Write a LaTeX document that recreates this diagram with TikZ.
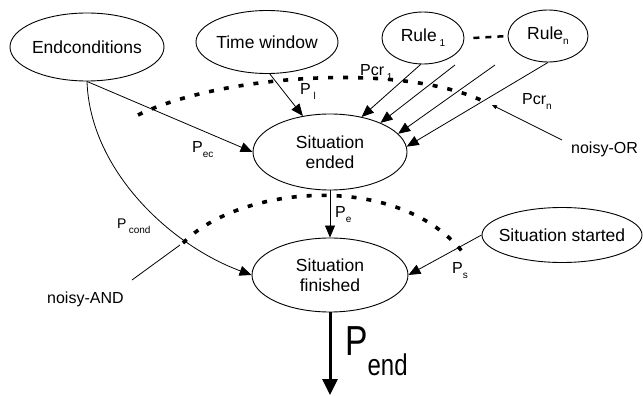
\documentclass[tikz,border=0pt]{standalone}
\usepackage{fontspec}
\usepackage{graphicx}
\setmainfont{Liberation Sans}
\usetikzlibrary{arrows.meta,shapes.geometric}
\newcommand{\mysub}[1]{\raisebox{-5pt}{\fontsize{10}{10}\selectfont #1}}
\begin{document}
\begin{tikzpicture}[x=1pt,y=-1pt,
 ell/.style={draw, ellipse, inner sep=0pt, line width=0.9pt},
 arr/.style={line width=0.8pt, -{Triangle[length=12pt,width=10pt]}},
 ptr/.style={line width=0.8pt, -{Triangle[length=5pt,width=4pt]}},
 dotarc/.style={line width=3.6pt, dash pattern=on 5pt off 10pt},
 lbl/.style={font=\fontsize{16}{16}\selectfont, inner sep=0pt, anchor=base west},
 txt/.style={font=\fontsize{17.5}{20}\selectfont, align=center, inner sep=0pt}]
\useasboundingbox (0,0) rectangle (643,396);
% nodes
\node[ell, minimum width=154pt, minimum height=68pt, label={[txt]center:Endconditions}] (ec) at (87,47) {};
\node[ell, minimum width=142pt, minimum height=63pt, label={[txt]center:Time window}] (tw) at (267,42) {};
\node[ell, minimum width=82pt, minimum height=52pt, label={[txt]center:Rule\,\mysub{1}}] (r1) at (423,38) {};
\node[ell, minimum width=80pt, minimum height=52pt, label={[txt]center:Rule\mysub{n}}] (rn) at (548,36) {};
\node[ell, minimum width=154pt, minimum height=76pt, label={[txt]center:Situation\\ended}] (se) at (330,152) {};
\node[ell, minimum width=156pt, minimum height=74pt, label={[txt]center:Situation\\finished}] (sf) at (330,275) {};
\node[ell, minimum width=160pt, minimum height=55pt, label={[txt]center:Situation started}] (ss) at (562,235) {};
% dashed link between rules
\draw[line width=2.5pt, dash pattern=on 6pt off 6pt] ([xshift=9pt]r1.east) -- (rn.west);
% dotted arcs
\coordinate (orA) at (138,115);
\coordinate (orB) at (483,101);
\draw[dotarc] (orA) .. controls (220,75) and (400,62) .. (orB);
\coordinate (andA) at (183,243);
\coordinate (andB) at (465,255);
\draw[dotarc] (andA) .. controls (240,185) and (400,170) .. (andB);
% arrows into Situation ended
\draw[arr] (ec.south) -- (se.west);
\draw[arr] (tw.-85) -- (se.127);
\draw[arr] (r1.-95) -- (se.48);
\coordinate (f1) at (455,65);
\coordinate (f2) at (495,65);
\draw[arr] (f1) -- (se.30);
\draw[arr] (f2) -- (se.15);
\draw[arr] (rn.-90) -- (se.4);
% arrows into Situation finished
\draw[arr] (se.south) -- (sf.north);
\draw[arr] (ec.south) .. controls (90,170) and (170,245) .. (sf.west);
\draw[arr] (ss.west) -- (sf.east);
% output arrow
\coordinate (pe) at (330,395);
\draw[line width=3pt, -{Triangle[length=16pt,width=15pt]}] (sf.south) -- (pe);
% labels
\node[lbl] (lec) at (192,152) {P\mysub{ec}};
\node[lbl] (ll) at (300,95) {P\,\mysub{l}};
\node[lbl] (lc1) at (360,76) {Pcr\,\mysub{1}};
\node[lbl] (lcn) at (522,105) {Pcr\mysub{n}};
\node[lbl, font=\fontsize{14}{14}\selectfont] (lcond) at (117,228) {P\,\mysub{cond}};
\node[lbl] (le) at (335,217) {P\mysub{e}};
\node[lbl] (ls) at (452,273) {P\mysub{s}};
\node[inner sep=0pt, anchor=base west] (lend) at (345,355) {\scalebox{0.8}[1]{\fontsize{42}{42}\selectfont P}\raisebox{-20pt}{\scalebox{0.8}[1]{\fontsize{30}{30}\selectfont end}}};
% noisy pointers
\node[lbl] (nor) at (571,153) {noisy-OR};
\coordinate (norS) at (562,140);
\coordinate (norE) at (492,105);
\draw[ptr] (norS) -- (norE);
\node[lbl] (nand) at (47,303) {noisy-AND};
\coordinate (nandS) at (132,280);
\coordinate (nandE) at (180,245);
\draw[line width=0.8pt] (nandS) -- (nandE);
\end{tikzpicture}
\end{document}
